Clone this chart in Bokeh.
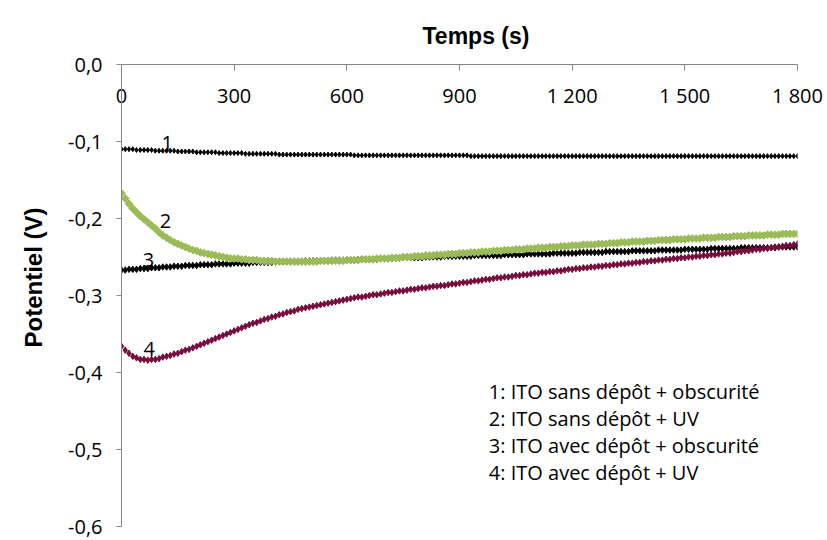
from bokeh.plotting import figure
from bokeh.models import FixedTicker, Label, Title
from bokeh.embed import file_html
from bokeh.resources import INLINE

# ---------------- data ----------------
# acquisition times (s), one point every 10 s
temps = list(range(0, 1801, 10))

# 1: ITO sans dépôt + obscurité
pot_1 = [
    -0.110, -0.110, -0.110, -0.110, -0.111, -0.111, -0.111, -0.111, -0.111, -0.112,
    -0.112, -0.112, -0.112, -0.112, -0.112, -0.113, -0.113, -0.113, -0.113, -0.113,
    -0.114, -0.114, -0.114, -0.114, -0.114, -0.114, -0.115, -0.115, -0.115, -0.115,
    -0.115, -0.115, -0.115, -0.116, -0.116, -0.116, -0.116, -0.116, -0.116, -0.116,
    -0.116, -0.116, -0.117, -0.117, -0.117, -0.117, -0.117, -0.117, -0.117, -0.117,
    -0.117, -0.117, -0.117, -0.117, -0.117, -0.117, -0.117, -0.117, -0.117, -0.117,
    -0.117, -0.117, -0.118, -0.118, -0.118, -0.118, -0.118, -0.118, -0.118, -0.118,
    -0.118, -0.118, -0.118, -0.118, -0.118, -0.118, -0.118, -0.118, -0.118, -0.118,
    -0.118, -0.118, -0.118, -0.118, -0.118, -0.118, -0.118, -0.118, -0.118, -0.118,
    -0.118, -0.118, -0.118, -0.119, -0.119, -0.119, -0.119, -0.119, -0.119, -0.119,
    -0.119, -0.119, -0.119, -0.119, -0.119, -0.119, -0.119, -0.119, -0.119, -0.119,
    -0.119, -0.119, -0.119, -0.119, -0.119, -0.119, -0.119, -0.119, -0.119, -0.119,
    -0.119, -0.119, -0.119, -0.119, -0.119, -0.119, -0.119, -0.119, -0.119, -0.119,
    -0.119, -0.119, -0.119, -0.119, -0.119, -0.119, -0.119, -0.119, -0.119, -0.119,
    -0.119, -0.119, -0.119, -0.119, -0.119, -0.119, -0.119, -0.119, -0.119, -0.119,
    -0.119, -0.119, -0.119, -0.119, -0.119, -0.119, -0.119, -0.119, -0.119, -0.119,
    -0.119, -0.119, -0.119, -0.119, -0.119, -0.119, -0.119, -0.119, -0.119, -0.119,
    -0.119, -0.119, -0.119, -0.119, -0.119, -0.119, -0.119, -0.119, -0.119, -0.119,
    -0.119,
]

# 2: ITO sans dépôt + UV
pot_2 = [
    -0.167, -0.174, -0.181, -0.187, -0.192, -0.197, -0.201, -0.205, -0.209, -0.213,
    -0.218, -0.222, -0.225, -0.228, -0.231, -0.233, -0.235, -0.237, -0.239, -0.241,
    -0.242, -0.244, -0.245, -0.246, -0.247, -0.248, -0.249, -0.250, -0.251, -0.252,
    -0.252, -0.252, -0.253, -0.253, -0.254, -0.254, -0.254, -0.255, -0.255, -0.255,
    -0.255, -0.256, -0.256, -0.256, -0.256, -0.256, -0.256, -0.256, -0.256, -0.256,
    -0.256, -0.256, -0.256, -0.255, -0.255, -0.255, -0.255, -0.255, -0.255, -0.255,
    -0.254, -0.254, -0.254, -0.254, -0.253, -0.253, -0.253, -0.253, -0.252, -0.252,
    -0.252, -0.252, -0.251, -0.251, -0.251, -0.250, -0.250, -0.250, -0.249, -0.249,
    -0.249, -0.248, -0.248, -0.248, -0.247, -0.247, -0.247, -0.246, -0.246, -0.246,
    -0.245, -0.245, -0.245, -0.244, -0.244, -0.244, -0.243, -0.243, -0.243, -0.242,
    -0.242, -0.242, -0.241, -0.241, -0.241, -0.240, -0.240, -0.240, -0.239, -0.239,
    -0.239, -0.238, -0.238, -0.238, -0.237, -0.237, -0.237, -0.236, -0.236, -0.236,
    -0.235, -0.235, -0.235, -0.234, -0.234, -0.234, -0.234, -0.233, -0.233, -0.233,
    -0.232, -0.232, -0.232, -0.231, -0.231, -0.231, -0.230, -0.230, -0.230, -0.230,
    -0.229, -0.229, -0.229, -0.228, -0.228, -0.228, -0.228, -0.227, -0.227, -0.227,
    -0.227, -0.226, -0.226, -0.226, -0.226, -0.225, -0.225, -0.225, -0.225, -0.224,
    -0.224, -0.224, -0.224, -0.223, -0.223, -0.223, -0.223, -0.222, -0.222, -0.222,
    -0.222, -0.222, -0.221, -0.221, -0.221, -0.221, -0.220, -0.220, -0.220, -0.220,
    -0.220,
]

# 3: ITO avec dépôt + obscurité
pot_3 = [
    -0.267, -0.267, -0.266, -0.266, -0.266, -0.265, -0.265, -0.265, -0.264, -0.264,
    -0.264, -0.263, -0.263, -0.263, -0.262, -0.262, -0.262, -0.261, -0.261, -0.261,
    -0.261, -0.260, -0.260, -0.260, -0.260, -0.259, -0.259, -0.259, -0.259, -0.259,
    -0.258, -0.258, -0.258, -0.258, -0.258, -0.257, -0.257, -0.257, -0.257, -0.257,
    -0.257, -0.257, -0.256, -0.256, -0.256, -0.256, -0.256, -0.256, -0.256, -0.255,
    -0.255, -0.255, -0.255, -0.255, -0.255, -0.255, -0.254, -0.254, -0.254, -0.254,
    -0.254, -0.254, -0.254, -0.253, -0.253, -0.253, -0.253, -0.253, -0.253, -0.252,
    -0.252, -0.252, -0.252, -0.252, -0.252, -0.251, -0.251, -0.251, -0.251, -0.251,
    -0.251, -0.250, -0.250, -0.250, -0.250, -0.250, -0.249, -0.249, -0.249, -0.249,
    -0.249, -0.249, -0.249, -0.249, -0.248, -0.248, -0.248, -0.248, -0.248, -0.248,
    -0.248, -0.248, -0.247, -0.247, -0.247, -0.247, -0.247, -0.247, -0.246, -0.246,
    -0.246, -0.246, -0.246, -0.246, -0.246, -0.245, -0.245, -0.245, -0.245, -0.245,
    -0.245, -0.245, -0.244, -0.244, -0.244, -0.244, -0.244, -0.244, -0.244, -0.243,
    -0.243, -0.243, -0.243, -0.243, -0.243, -0.243, -0.242, -0.242, -0.242, -0.242,
    -0.242, -0.242, -0.242, -0.241, -0.241, -0.241, -0.241, -0.241, -0.241, -0.241,
    -0.240, -0.240, -0.240, -0.240, -0.240, -0.240, -0.240, -0.239, -0.239, -0.239,
    -0.239, -0.239, -0.239, -0.239, -0.239, -0.238, -0.238, -0.238, -0.238, -0.238,
    -0.238, -0.238, -0.238, -0.238, -0.238, -0.237, -0.237, -0.237, -0.237, -0.237,
    -0.237,
]

# 4: ITO avec dépôt + UV
pot_4 = [
    -0.366, -0.371, -0.375, -0.379, -0.381, -0.383, -0.383, -0.384, -0.383, -0.383,
    -0.382, -0.380, -0.379, -0.378, -0.376, -0.375, -0.373, -0.371, -0.370, -0.368,
    -0.366, -0.364, -0.362, -0.360, -0.358, -0.356, -0.354, -0.352, -0.350, -0.348,
    -0.346, -0.344, -0.342, -0.340, -0.338, -0.336, -0.335, -0.333, -0.331, -0.330,
    -0.328, -0.327, -0.325, -0.324, -0.322, -0.321, -0.320, -0.318, -0.317, -0.316,
    -0.315, -0.314, -0.313, -0.312, -0.311, -0.310, -0.309, -0.308, -0.307, -0.306,
    -0.305, -0.304, -0.303, -0.302, -0.302, -0.301, -0.300, -0.299, -0.299, -0.298,
    -0.297, -0.296, -0.296, -0.295, -0.294, -0.294, -0.293, -0.292, -0.292, -0.291,
    -0.290, -0.290, -0.289, -0.288, -0.288, -0.287, -0.287, -0.286, -0.285, -0.285,
    -0.284, -0.283, -0.283, -0.282, -0.281, -0.281, -0.280, -0.279, -0.279, -0.278,
    -0.277, -0.277, -0.276, -0.276, -0.275, -0.274, -0.274, -0.273, -0.273, -0.272,
    -0.271, -0.271, -0.270, -0.270, -0.269, -0.269, -0.268, -0.268, -0.267, -0.266,
    -0.266, -0.265, -0.265, -0.264, -0.264, -0.263, -0.263, -0.262, -0.262, -0.261,
    -0.261, -0.260, -0.260, -0.259, -0.259, -0.258, -0.258, -0.257, -0.257, -0.256,
    -0.256, -0.255, -0.255, -0.254, -0.254, -0.253, -0.253, -0.252, -0.252, -0.251,
    -0.251, -0.250, -0.250, -0.249, -0.249, -0.248, -0.248, -0.247, -0.247, -0.246,
    -0.246, -0.245, -0.245, -0.244, -0.243, -0.243, -0.242, -0.242, -0.241, -0.240,
    -0.240, -0.239, -0.239, -0.238, -0.237, -0.237, -0.236, -0.235, -0.235, -0.234,
    -0.233,
]

x_ticks = [0, 300, 600, 900, 1200, 1500, 1800]
x_tick_labels = ["0", "300", "600", "900", "1\u00a0200", "1\u00a0500", "1\u00a0800"]
y_ticks = [0.0, -0.1, -0.2, -0.3, -0.4, -0.5, -0.6]
y_tick_labels = ["0,0", "-0,1", "-0,2", "-0,3", "-0,4", "-0,5", "-0,6"]

x_title = "Temps (s)"
y_title = "Potentiel (V)"
curve_numbers = ["1", "2", "3", "4"]
legend_lines = [
    "1: ITO sans dépôt + obscurité",
    "2: ITO sans dépôt + UV",
    "3: ITO avec dépôt + obscurité",
    "4: ITO avec dépôt + UV",
]

# ---------------- figure ----------------
AXIS_GREY = "#868686"
BODY_FONT = "Open Sans"
TITLE_FONT = "Liberation Sans"

p = figure(
    width=827, height=540,
    x_range=(0, 1800), y_range=(-0.6, 0.0),
    x_axis_location="above",
    output_backend="svg", toolbar_location=None,
    min_border_left=120, min_border_right=30,
    min_border_top=64, min_border_bottom=14,
)
p.outline_line_color = None
p.grid.visible = False
p.background_fill_color = "white"
p.border_fill_color = "white"

# title (horizontal axis title)
p.title.text = x_title
p.title.text_font = TITLE_FONT
p.title.text_font_style = "bold"
p.title.text_font_size = "23px"
p.title.align = "left"
p.title.offset = 301
p.title.standoff = 32
p.title.text_color = "black"

# x axis (at the top, labels below the line)
xa = p.xaxis[0]
xa.ticker = FixedTicker(ticks=x_ticks)
xa.major_label_overrides = dict(zip(x_ticks, x_tick_labels))
xa.major_label_text_font = BODY_FONT
xa.major_label_text_font_size = "20px"
xa.major_label_text_color = "black"
xa.major_label_standoff = -44
xa.major_tick_in = 6
xa.major_tick_out = 0
xa.minor_tick_line_color = None
xa.axis_line_color = AXIS_GREY
xa.major_tick_line_color = AXIS_GREY

# y axis
ya = p.yaxis[0]
ya.ticker = FixedTicker(ticks=y_ticks)
ya.major_label_overrides = dict(zip(y_ticks, y_tick_labels))
ya.major_label_text_font = BODY_FONT
ya.major_label_text_font_size = "20px"
ya.major_label_text_color = "black"
ya.major_label_standoff = 14
ya.major_tick_out = 5
ya.major_tick_in = 0
ya.minor_tick_line_color = None
ya.axis_line_color = AXIS_GREY
ya.major_tick_line_color = AXIS_GREY

# vertical axis title, as a side title (lets it sit a little above the middle)
y_title_obj = Title(text=y_title, text_font=TITLE_FONT, text_font_style="bold",
                    text_font_size="24px", text_color="black",
                    align="left", offset=179, vertical_align="middle", standoff=36)
p.add_layout(y_title_obj, "left")

# series
p.scatter(temps, pot_1, marker="diamond", size=5, color="black")
p.scatter(temps, pot_3, marker="diamond", size=6.5, color="black")
p.scatter(temps, pot_2, marker="square", size=5.5, angle=0.785, color="#9BBB59")
p.scatter(temps, pot_4, marker="diamond", size=6.5, color="#770B3D")

# curve numbers
num_pos = [(122, -0.1015), (117, -0.203), (72, -0.2543), (74, -0.370)]
for txt, (tx, ty) in zip(curve_numbers, num_pos):
    p.add_layout(Label(x=tx, y=ty, text=txt, text_font=BODY_FONT, text_font_size="20px",
                       text_align="center", text_baseline="middle", text_color="black"))

# legend text block
leg_y = [-0.4253, -0.4600, -0.4946, -0.5293]
for txt, ly in zip(legend_lines, leg_y):
    p.add_layout(Label(x=978, y=ly, text=txt, text_font=BODY_FONT, text_font_size="20px",
                       text_align="left", text_baseline="middle", text_color="black"))

open("out.html", "w").write(file_html(p, INLINE))
